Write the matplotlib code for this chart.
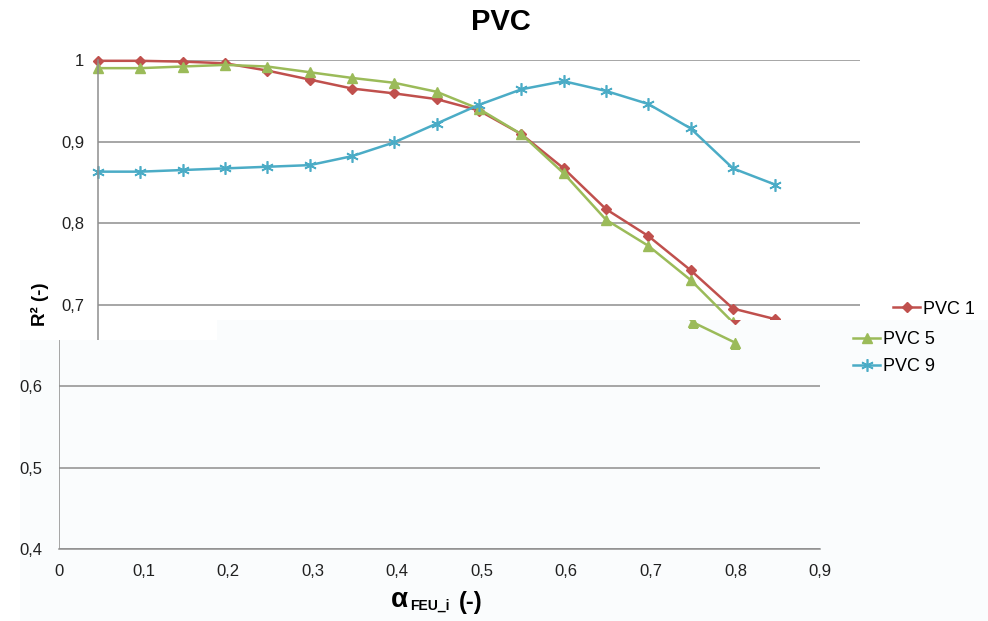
import matplotlib
matplotlib.use('Agg')
import matplotlib.pyplot as plt
from matplotlib.patches import Polygon

plt.rcParams['font.family'] = ['Liberation Sans', 'DejaVu Sans']

# data (alpha_FEU_i vs R²)
alpha_feu = [0.0, 0.05, 0.1, 0.15, 0.2, 0.25, 0.3, 0.35, 0.4,
             0.45, 0.5, 0.55, 0.6, 0.65, 0.7, 0.75, 0.8]
pvc1 = [0.999, 0.999, 0.998, 0.996, 0.987, 0.976, 0.965, 0.959, 0.952,
        0.938, 0.909, 0.867, 0.817, 0.784, 0.742, 0.695, 0.682]
pvc5 = [0.990, 0.990, 0.992, 0.994, 0.992, 0.985, 0.978, 0.972, 0.961,
        0.940, 0.909, 0.861, 0.804, 0.772, 0.730, 0.678, 0.653]
pvc9 = [0.863, 0.863, 0.865, 0.867, 0.869, 0.871, 0.882, 0.899, 0.922,
        0.945, 0.964, 0.974, 0.962, 0.946, 0.916, 0.867, 0.847]
series_names = ['PVC 1', 'PVC 5', 'PVC 9']

x_ticks = [0.0, 0.1, 0.2, 0.3, 0.4, 0.5, 0.6, 0.7, 0.8, 0.9]
x_tick_labels = ['0', '0,1', '0,2', '0,3', '0,4', '0,5', '0,6', '0,7', '0,8', '0,9']
y_ticks = [0.4, 0.5, 0.6, 0.7, 0.8, 0.9, 1.0]
y_tick_labels = ['0,4', '0,5', '0,6', '0,7', '0,8', '0,9', '1']

W, H = 988, 621
GRID = '#8e8e8e'
TXT = '#202020'
styles = [
    dict(color='#c0504d', marker='D', ms=5),
    dict(color='#9bbb59', marker='^', ms=7.5),
    dict(color='#4bacc6', marker=(6, 2, 0), ms=9, mew=1.2),
]


def fx(px):
    return px / W


def fy(py):
    return 1 - py / H


def setup_axes(ax, yt, ytl, ypad):
    ax.set_xlim(0, 0.9)
    ax.set_ylim(0.4, 1.0)
    ax.set_xticks(x_ticks)
    ax.set_xticklabels(x_tick_labels)
    ax.set_yticks(yt)
    ax.set_yticklabels(ytl)
    ax.tick_params(length=0, labelsize=12, labelcolor=TXT)
    ax.tick_params(axis='y', pad=ypad)
    ax.tick_params(axis='x', pad=11)
    ax.grid(axis='y', color=GRID, linewidth=1.1)
    ax.set_axisbelow(True)
    for side in ['top', 'right']:
        ax.spines[side].set_visible(False)
    for side in ['left', 'bottom']:
        ax.spines[side].set_color(GRID)
        ax.spines[side].set_linewidth(1.1)


def draw_series(ax):
    lines = []
    for vals, name, st in zip([pvc1, pvc5, pvc9], series_names, styles):
        ln, = ax.plot(alpha_feu, vals, color=st['color'], lw=1.8,
                      marker=st['marker'], ms=st['ms'],
                      mew=st.get('mew', 1.0), mec=st['color'],
                      mfc=st['color'], label=name)
        lines.append(ln)
    return lines


def add_legend(ax, handles, labels, x, y):
    ax.legend(handles=handles, labels=labels, loc='center left',
              bbox_to_anchor=(fx(x), fy(y)), bbox_transform=fig.transFigure,
              frameon=False, borderpad=0, borderaxespad=0, handlelength=1.5,
              handletextpad=0.15, labelspacing=0.55, fontsize=13, numpoints=1)


fig = plt.figure(figsize=(W / 100, H / 100), dpi=100)

# upper part of the chart
ax_a = fig.add_axes([fx(98), fy(549), (860 - 98) / W, (549 - 60) / H])
ax_a.set_zorder(0)
setup_axes(ax_a, y_ticks, y_tick_labels, 10)
lines_a = draw_series(ax_a)
for ln in lines_a:
    ln.set_clip_on(False)
# only the first entry of this legend is visible
add_legend(ax_a, lines_a[:1], series_names[:1], 893, 309)

# lower part, shifted left
region = Polygon([(fx(20), fy(340)), (fx(217), fy(340)), (fx(217), fy(320)),
                  (fx(988), fy(320)), (fx(988), fy(621)), (fx(20), fy(621))],
                 closed=True, transform=fig.transFigure,
                 facecolor='#fafcfd', edgecolor='none', zorder=1)
fig.add_artist(region)

ax_b = fig.add_axes([fx(59), fy(549), (820 - 59) / W, (549 - 60) / H])
ax_b.set_zorder(2)
ax_b.patch.set_visible(False)
setup_axes(ax_b, y_ticks[:3], y_tick_labels[:3], 12)
ax_b.spines['left'].set_clip_path(region)
lines_b = draw_series(ax_b)
for ln in lines_b:
    ln.set_clip_path(region)
add_legend(ax_b, lines_b[1:], series_names[1:], 853, 353)

# titles and axis labels
fig.text(fx(501), fy(22), 'PVC', ha='center', va='center',
         fontsize=21, fontweight='bold', color='black')
fig.text(fx(40), fy(304), 'R² (-)', rotation=90, ha='center', va='center',
         fontsize=13.5, fontweight='bold', color='black')
fig.text(fx(391), fy(607), 'α', ha='left', va='baseline',
         fontsize=20, fontweight='bold', color='black')
fig.text(fx(410), fy(610), 'FEU_i', ha='left', va='baseline',
         fontsize=10, fontweight='bold', color='black')
fig.text(fx(459), fy(609), '(-)', ha='left', va='baseline',
         fontsize=17, fontweight='bold', color='black')

fig.savefig('out.png', dpi=100)
